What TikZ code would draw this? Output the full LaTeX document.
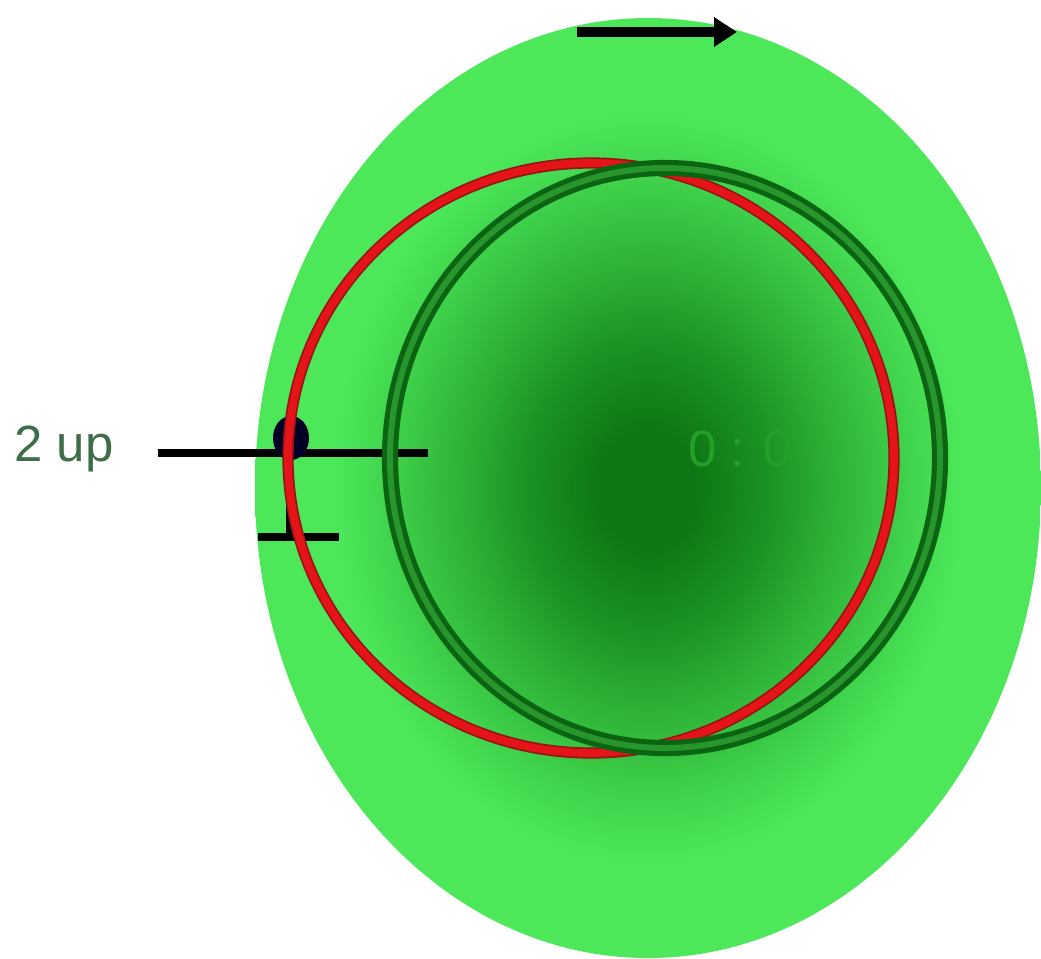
\documentclass[tikz,border=0pt]{standalone}
\usepackage{fontspec}
\setmainfont{Liberation Sans}
\usetikzlibrary{arrows.meta}
\definecolor{gLight}{RGB}{76,232,90}
\definecolor{gL2}{RGB}{66,214,78}
\definecolor{gL3}{RGB}{56,196,66}
\definecolor{gMid}{RGB}{44,176,52}
\definecolor{gMid2}{RGB}{28,148,36}
\definecolor{gDark}{RGB}{14,118,20}
\definecolor{ringDark}{RGB}{10,100,18}
\definecolor{ringIn}{RGB}{40,150,45}
\definecolor{ringRed}{RGB}{228,20,24}
\definecolor{ringRedEdge}{RGB}{150,20,20}
\definecolor{labelC}{RGB}{62,110,72}
\definecolor{faintC}{RGB}{36,160,42}
\pgfdeclareradialshading{bodyshade}{\pgfpoint{0bp}{0bp}}{%
  color(0bp)=(gDark); color(3bp)=(gDark); color(8bp)=(gMid2); color(11.5bp)=(gMid); color(14.5bp)=(gL3); color(17bp)=(gL2); color(20bp)=(gLight); color(50bp)=(gLight)}
\tikzset{
  rededge/.style={draw=ringRedEdge, line width=6.4pt},
  redring/.style={draw=ringRed, line width=4.4pt},
  greenring/.style={draw=ringDark, double=ringIn, double distance=3.4pt, line width=2.9pt},
  blk/.style={draw=black, line width=4.5pt},
  lbl/.style={inner sep=0pt, font=\fontsize{29pt}{33pt}\selectfont}
}
\begin{document}
\begin{tikzpicture}[x=0.02cm,y=-0.02cm]
\useasboundingbox (0,0) rectangle (1041,958);
% body
\shade[shading=bodyshade] (648,488) ellipse [x radius=393, y radius=470];
% faint text
\node[lbl, text=faintC, anchor=base west] (faint) at (688,466) {0 : 0};
% left markers
\coordinate (hl) at (158,453);
\coordinate (hr) at (428,453);
\draw[blk] (hl) -- (hr);
\coordinate (vt) at (289,455);
\coordinate (vb) at (289,537);
\draw[draw=black, line width=3.4pt] (vt) -- (vb);
\coordinate (ll) at (258,537);
\coordinate (lr) at (339,537);
\draw[blk] (ll) -- (lr);
\fill[black!85!blue] (291,438) ellipse [x radius=18, y radius=22];
% rings
\draw[rededge] (591,458) ellipse [x radius=303, y radius=295];
\draw[redring] (591,458) ellipse [x radius=303, y radius=295];
\draw[greenring] (665,458) ellipse [x radius=275, y radius=290];
% label
\node[lbl, text=labelC, anchor=base west] (up) at (14,461) {2 up};
% arrow
\coordinate (a1) at (577,32);
\coordinate (a2) at (737,32);
\draw[draw=black, line width=5.8pt, -{Triangle[length=13pt,width=16pt]}] (a1) -- (a2);
\end{tikzpicture}
\end{document}
